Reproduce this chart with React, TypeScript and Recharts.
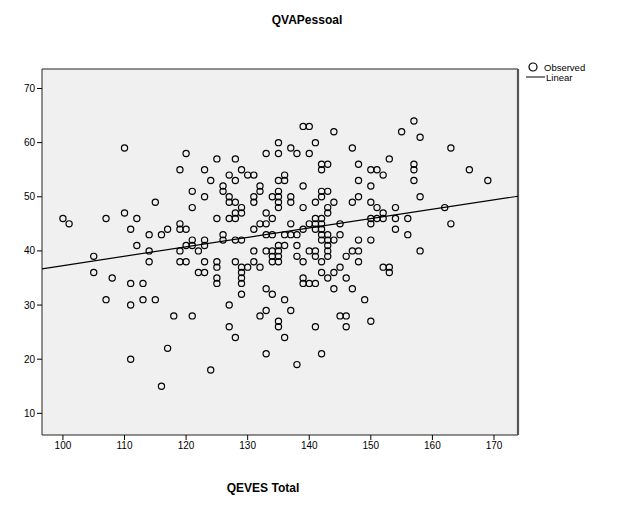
import React from 'react';
import { ScatterChart, Scatter, XAxis, YAxis, CartesianGrid, ReferenceArea, ReferenceLine, Legend } from 'recharts';

const FONT = "Arial, 'Liberation Sans', sans-serif";

// QEVES Total -> list of QVAPessoal values observed at that total
const observedByTotal: [number, number[]][] = [
  [100, [46]],
  [101, [45]],
  [105, [39, 36]],
  [107, [46, 31]],
  [108, [35]],
  [110, [59, 47]],
  [111, [44, 34, 30, 20]],
  [112, [46, 41]],
  [113, [34, 31]],
  [114, [43, 40, 38]],
  [115, [49, 31]],
  [116, [43, 15]],
  [117, [44, 22]],
  [118, [28]],
  [119, [55, 45, 44, 40, 38]],
  [120, [58, 44, 41, 38]],
  [121, [51, 48, 42, 41, 28]],
  [122, [40, 36]],
  [123, [55, 50, 42, 41, 38, 36]],
  [124, [53, 18]],
  [125, [57, 46, 38, 37, 35, 34]],
  [126, [52, 51, 43, 42]],
  [127, [54, 50, 49, 46, 30, 26]],
  [128, [57, 53, 49, 47, 46, 42, 38, 24]],
  [129, [55, 48, 47, 42, 37, 36, 35, 34, 32]],
  [130, [54, 37]],
  [131, [54, 50, 49, 44, 40, 38]],
  [132, [52, 51, 45, 37, 28]],
  [133, [58, 47, 45, 43, 40, 33, 29, 21]],
  [134, [50, 46, 43, 40, 39, 38, 32]],
  [135, [60, 58, 53, 51, 50, 49, 48, 41, 40, 39, 38, 27, 26]],
  [136, [54, 53, 43, 41, 31, 24]],
  [137, [59, 50, 49, 45, 43, 29]],
  [138, [58, 43, 41, 39, 19]],
  [139, [63, 52, 48, 44, 38, 35, 34]],
  [140, [63, 58, 45, 40, 34]],
  [141, [60, 49, 46, 45, 44, 40, 39, 34, 26]],
  [142, [56, 55, 51, 50, 46, 45, 44, 43, 42, 38, 36, 21]],
  [143, [56, 51, 48, 47, 43, 42, 41, 40, 39, 35]],
  [144, [62, 49, 42, 36, 33]],
  [145, [45, 43, 37, 28]],
  [146, [39, 35, 28, 26]],
  [147, [59, 49, 40, 33]],
  [148, [56, 53, 50, 42, 40, 38]],
  [149, [31]],
  [150, [55, 52, 49, 46, 45, 42, 27]],
  [151, [55, 48, 46]],
  [152, [54, 47, 46, 37]],
  [153, [57, 37, 36]],
  [154, [48, 46, 44]],
  [155, [62]],
  [156, [46, 43]],
  [157, [64, 56, 55, 53]],
  [158, [61, 50, 40]],
  [162, [48]],
  [163, [59, 45]],
  [166, [55]],
  [169, [53]],
];

// fitted linear line, read at the frame edges
const linearFit = [
  { x: 96.6, y: 36.7 },
  { x: 173.9, y: 50.1 },
];

const xTicks = [100, 110, 120, 130, 140, 150, 160, 170];
const yTicks = [10, 20, 30, 40, 50, 60, 70];
const xDomain: [number, number] = [96.6, 173.9];
const yDomain: [number, number] = [6.0, 73.6];

const observed = observedByTotal.flatMap(([x, ys]) => ys.map((y) => ({ x, y })));

const Ring = (props: any) => (
  <circle cx={props.cx} cy={props.cy} r={3.1} fill="none" stroke="#000" strokeWidth={1.2} />
);

const LegendBox = () => (
  <svg width={80} height={26} style={{ overflow: 'visible', display: 'block' }}>
    <circle cx={7} cy={6} r={4} fill="none" stroke="#000" strokeWidth={1.2} />
    <text x={18} y={9.5} fontSize={9.5} fontFamily={FONT} fill="#000">Observed</text>
    <line x1={0} y1={16} x2={19} y2={16} stroke="#000" strokeWidth={1} />
    <text x={20} y={19.5} fontSize={9.5} fontFamily={FONT} fill="#000">Linear</text>
  </svg>
);

export default function App() {
  return (
    <div style={{ position: 'absolute', left: 0, top: 0, width: 638, height: 506, background: '#fff' }}>
      <ScatterChart width={638} height={506} margin={{ top: 69, right: 120, bottom: 0, left: 0 }}>
        <CartesianGrid horizontal={false} vertical={false} fill="#f0f0f0" />
        <XAxis
          type="number"
          dataKey="x"
          domain={xDomain}
          ticks={xTicks}
          allowDataOverflow
          height={45}
          axisLine={false}
          tickLine={{ stroke: '#000' }}
          tickSize={5}
          tick={{ fill: '#000', fontSize: 10, fontFamily: FONT }}
        />
        <YAxis
          type="number"
          dataKey="y"
          domain={yDomain}
          ticks={yTicks}
          allowDataOverflow
          width={42}
          axisLine={false}
          tickLine={{ stroke: '#000' }}
          tickSize={5}
          tick={{ fill: '#000', fontSize: 10, fontFamily: FONT }}
        />
        <ReferenceArea
          x1={xDomain[0]}
          x2={xDomain[1]}
          y1={yDomain[0]}
          y2={yDomain[1]}
          fill="none"
          stroke="#222"
          strokeWidth={1}
          ifOverflow="visible"
        />
        <ReferenceLine x={xDomain[1]} stroke="#555" strokeWidth={2.2} ifOverflow="visible" />
        <Scatter data={observed} shape={Ring} isAnimationActive={false} />
        <Scatter
          data={linearFit}
          line={{ stroke: '#000', strokeWidth: 1.2 }}
          shape={() => null}
          isAnimationActive={false}
        />
        <Legend
          content={() => <LegendBox />}
          wrapperStyle={{ position: 'absolute', left: 526, top: 61, width: 80 }}
        />
        <text x={307} y={24} textAnchor="middle" fontSize={12} fontWeight="bold" fontFamily={FONT} fill="#000">
          QVAPessoal
        </text>
        <text x={263} y={492} textAnchor="middle" fontSize={12} fontWeight="bold" fontFamily={FONT} fill="#000">
          QEVES Total
        </text>
      </ScatterChart>
    </div>
  );
}
